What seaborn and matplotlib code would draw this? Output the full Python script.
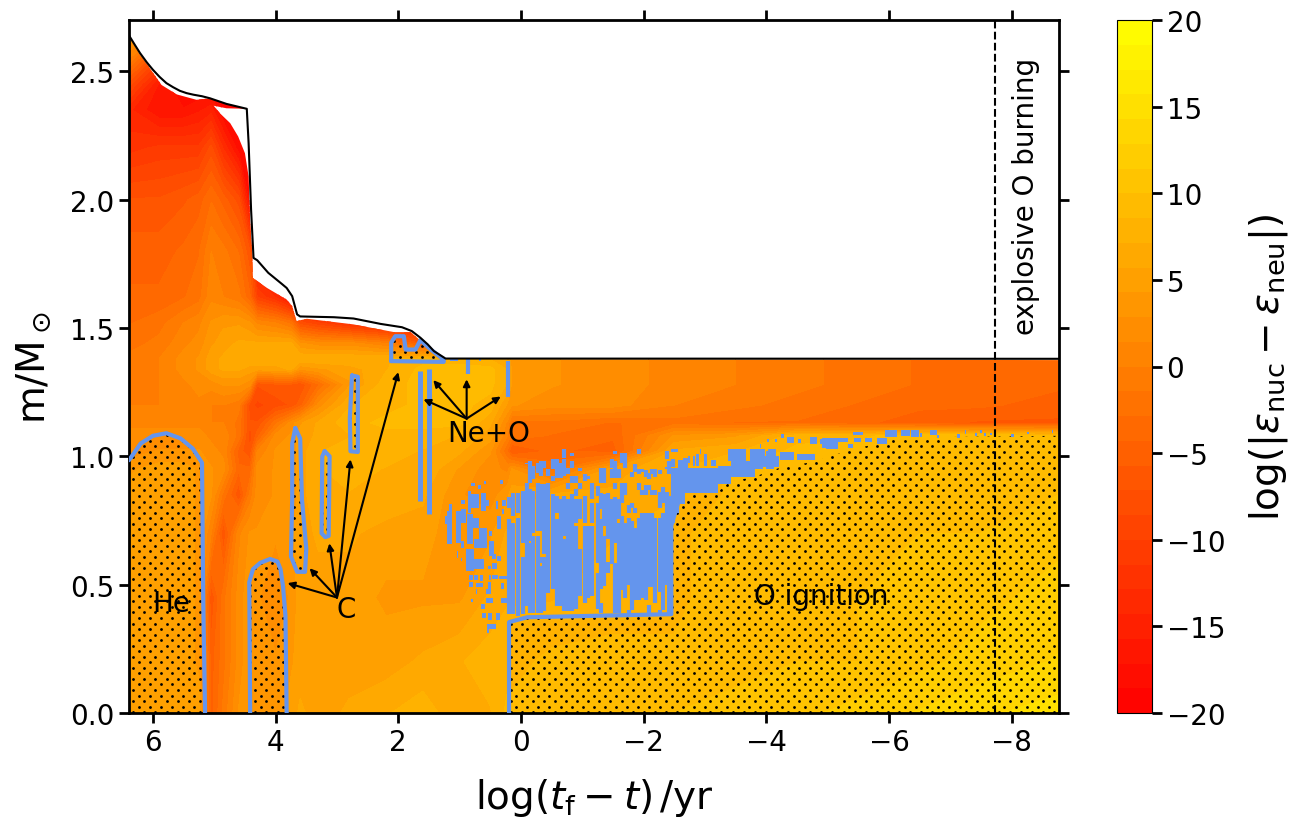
import numpy as np
import pandas as pd
import seaborn as sns
import matplotlib.pyplot as plt
from matplotlib.patches import Polygon

sns.set_style('ticks')
plt.rcParams['font.family'] = 'DejaVu Sans'
for key in ['text.color', 'axes.labelcolor', 'xtick.color', 'ytick.color', 'axes.edgecolor']:
    plt.rcParams[key] = 'k'

BLUE = 'cornflowerblue'

# log(|eps_nuc - eps_neu|), one row per mass level
logt_nodes = [6.39, 5.9, 5.5, 5.25, 5.05, 4.85, 4.6, 4.42, 4.3, 4.0, 3.75, 3.6, 3.3, 2.8, 2.2,
              1.6, 1.0, 0.5, 0.22, 0.15, -0.5, -1.5, -2.5, -3.5, -4.5, -5.5, -6.5, -7.5, -8.77]
mass_nodes = [0, 0.2, 0.45, 0.7, 0.85, 0.95, 1.02, 1.08, 1.13, 1.2, 1.28, 1.34, 1.38,
              1.44, 1.52, 1.62, 1.8, 2.0, 2.2, 2.35, 2.45, 2.55, 2.65]
eps_rows = [
    [5, 5, 5, 5, -5, -1, 3, 4, 3, 3, 5, 6, 5, 6, 7, 8, 6, 7, 9, 9, 9, 10, 10, 11, 11, 12, 13, 14, 15],
    [5, 5, 5, 4, -5, -2, 2, 4, 3, 3, 4, 5, 5, 5, 5, 6, 7, 8, 8, 8, 9, 9, 9, 9, 10, 10, 11, 12, 13],
    [5, 5, 5, 4, -7, -2, 2, 4, 3, 2, 3, 5, 5, 5, 4, 4, 4, 6, 7, 7, 7, 8, 8, 10, 10, 10, 11, 11, 12],
    [5, 5, 5, 4, 0, -7, 1, 3, 3, 3, 4, 5, 6, 6, 5, 5, 3, 4, 6, 6, 7, 7, 8, 10, 10, 10, 10, 10, 11],
    [5, 5, 5, 4, 3, -2, -7, -1, 2, 3, 3, 5, 7, 7, 7, 6, 3, 2, 4, 5, 6, 6, 7, 9, 9, 10, 10, 10, 10],
    [4, 5, 5, 4, 3, 2, -4, -4, 2, 3, 3, 5, 7, 8, 7, 7, 4, 2, 1, 3, -2, 5, 7, 9, 9, 10, 10, 10, 10],
    [2, 3, 3, 3, 2, 1, -5, -7, 0, 3, 3, 5, 7, 8, 8, 7, 6, 3, -3, -6, -4, -5, 6, 7, 9, 10, 10, 10, 10],
    [2, 2, 2, 2, 1, 1, -2, -8, -5, 2, 3, 5, 6, 7, 8, 8, 7, 5, 0, -2, -3, -4, 3, 4, 8, 8, 10, 10, 9],
    [1, 1, 1, 1, 0, 0, -2, -7, -7, -2, 2, 4, 6, 8, 9, 9, 9, 6, 1, -2, -2, -3, -2, -3, -3, -4, -5, -6, -6],
    [0, 0, 1, 1, 0, 0, -1, -8, -9, -8, -7, -5, 2, 7, 8, 9, 9, 8, 4, 3, 2, 2, 0, -1, -2, -3, -4, -4, -5],
    [-1, 0, 1, 2, 2, 3, 3, 2, -7, -6, -6, -7, -3, 4, 8, 9, 10, 9, 7, 4, 3, 2, 1, 0, -1, -2, -3, -3, -4],
    [-1, 0, 2, 3, 5, 6, 6, 5, 5, 5, 6, 3, 4, 5, 7, 9, 10, 9, 7, 4, 3, 2, 1, 0, -1, -2, -3, -3, -4],
    [-1, 0, 2, 3, 5, 6, 7, 7, 7, 7, 7, 7, 7, 7, 7, 8, 7, 7, 6, 3, 3, 2, 1, 0, -1, -2, -3, -3, -4],
    # above here only the left part is ever seen, the rest repeats the last value
    [-2, -1, 1, 2, 4, 5, 6, 6, 6, 6, 6, 3, 2, 2, 0, -6, 0],
    [-3, -2, 0, 1, 3, 4, 4, 3, 1, 0, -2, -8, -10, -13, -15, -15, -15],
    [-4, -4, -3, -2, 1, 0, -1, -4, -10, -13, -18],
    [-5, -5, -4, -3, 0, -1, -3, -7, -18],
    [-7, -7, -6, -5, -3, -5, -8, -18],
    [-12, -11, -11, -11, -8, -13, -18, -19],
    [-14, -17, -17, -16, -15, -19],
    [-8, -16, -19],
    [0, -9, -19],
    [5, 0, -19],
]

# stellar surface (black) and upper edge of the coloured area
surface_logt = [6.39, 6.3, 6.21, 6.1, 6.0, 5.89, 5.78, 5.67, 5.56, 5.45, 5.34, 5.2, 5.07, 4.8, 4.47, 4.44, 4.4,
                4.36, 4.3, 4.12, 3.9, 3.82, 3.73, 3.65, 3.6, 3.05, 2.73, 2.29, 1.94, 1.78, 1.64, 1.52, 1.42, 1.23, -8.77]
surface_mass = [2.64, 2.605, 2.571, 2.535, 2.506, 2.478, 2.454, 2.438, 2.424, 2.415, 2.409, 2.403, 2.395, 2.373,
                2.354, 2.22, 1.961, 1.773, 1.764, 1.715, 1.672, 1.656, 1.624, 1.553, 1.545, 1.542, 1.537, 1.516,
                1.503, 1.488, 1.462, 1.436, 1.41, 1.381, 1.38]
top_logt = [6.39, 6.3, 6.21, 6.1, 6.0, 5.86, 5.61, 5.29, 5.07, 4.8, 4.47, 4.8, 5.01, 4.905, 4.74, 4.61, 4.5, 4.44, 4.415,
            4.38, 4.37, 4.14, 3.82, 3.73, 3.66, 3.49, 2.73, 2.07, 1.8, 1.53, 1.26, -8.77, -8.77, 6.39]
top_mass = [2.64, 2.6, 2.565, 2.53, 2.495, 2.447, 2.41, 2.389, 2.395, 2.373, 2.354, 2.356, 2.366, 2.336, 2.298, 2.246, 2.181,
            2.09, 1.909, 1.78, 1.695, 1.656, 1.611, 1.585, 1.527, 1.536, 1.514, 1.484, 1.484, 1.429, 1.379, 1.375, 0, 0]

# burning zones
he_logt = [6.39, 6.36, 6.2, 6.0, 5.78, 5.55, 5.35, 5.2, 5.18, 5.15, 6.39]
he_mass = [0.985, 0.995, 1.05, 1.08, 1.09, 1.07, 1.03, 0.975, 0.44, 0, 0]
c1_logt = [4.415, 4.43, 4.37, 4.25, 4.09, 3.97, 3.92, 3.88, 3.84, 3.82]
c1_mass = [0, 0.51, 0.56, 0.585, 0.6, 0.59, 0.56, 0.495, 0.38, 0]
c2_logt = [3.68, 3.73, 3.73, 3.75, 3.65, 3.52, 3.5, 3.57, 3.6, 3.68]
c2_mass = [1.11, 1.05, 0.83, 0.61, 0.55, 0.55, 0.64, 0.83, 1.07, 1.11]
c3_logt = [3.2, 3.24, 3.25, 3.19, 3.135, 3.12, 3.2]
c3_mass = [1.02, 1.0, 0.70, 0.685, 0.69, 1.0, 1.02]
c4_logt = [2.755, 2.66, 2.66, 2.78, 2.79, 2.755]
c4_mass = [1.315, 1.31, 1.017, 1.02, 1.15, 1.315]
c5_logt = [2.116, 2.116, 2.05, 1.91, 1.88, 1.72, 1.64, 1.47, 1.26, 1.26, 2.116]
c5_mass = [1.371, 1.443, 1.468, 1.468, 1.416, 1.416, 1.453, 1.416, 1.377, 1.368, 1.371]
o_logt = [0.195, 0.195, -0.1, -2.45, -2.45, -2.61, -3.2, -3.4, -3.8, -4.19, -4.79, -5.39,
          -5.77, -6.1, -8.77, -8.77, 0.195]
o_mass = [0, 0.354, 0.373, 0.385, 0.73, 0.86, 0.86, 0.9, 0.92, 0.953, 0.98, 1.027,
          1.047, 1.073, 1.08, 0, 0]
o_edge_logt = [0.195, 0.195, -0.1, -2.45, -2.45, -2.6]
o_edge_mass = [0, 0.354, 0.373, 0.385, 0.73, 0.85]

# Ne+O strips: logt, bottom, top
strip_logt = [1.64, 1.5, 0.858, 0.22]
strip_lo = [0.826, 0.774, 1.32, 1.233]
strip_hi = [1.332, 1.342, 1.385, 1.37]

# noisy convective cells, columns inside the O flash region: logt, bottom, top
cols_logt = [0.2, 0.2, 0.13, 0.13, 0.05, 0.05, -0.03, -0.03, -0.09, -0.09, -0.145, -0.145, -0.145,
             -0.2, -0.2, -0.2, -0.27, -0.27, -0.27, -0.325, -0.325, -0.325, -0.325, -0.38, -0.38, -0.38,
             -0.445, -0.445, -0.52, -0.52, -0.52, -0.585, -0.585, -0.585, -0.65, -0.65,
             -0.705, -0.705, -0.705, -0.705, -0.765, -0.765, -0.765, -0.835, -0.835, -0.835, -0.835,
             -0.9, -0.9, -0.9, -0.9, -0.965, -0.965, -0.965, -0.965, -1.04, -1.04, -1.04, -1.1, -1.1,
             -1.16, -1.16, -1.16, -1.25, -1.25, -1.25]
cols_lo = [0.385, 0.80, 0.385, 0.768, 0.379, 0.781, 0.385, 0.664, 0.417, 0.969, 0.391, 0.67, 0.897,
           0.391, 0.703, 0.91, 0.391, 0.709, 0.936, 0.391, 0.586, 0.709, 0.923, 0.398, 0.62, 0.956,
           0.469, 0.923, 0.482, 0.904, 0.949, 0.417, 0.781, 0.917, 0.417, 0.917,
           0.398, 0.69, 0.923, 0.995, 0.398, 0.871, 0.93, 0.398, 0.897, 0.956, 1.001,
           0.404, 0.742, 0.845, 0.897, 0.456, 0.755, 0.871, 0.943, 0.43, 0.742, 0.904, 0.45, 0.91,
           0.456, 0.742, 0.832, 0.404, 0.586, 0.845]
cols_hi = [0.755, 0.84, 0.742, 0.858, 0.761, 0.858, 0.606, 0.865, 0.897, 0.975, 0.664, 0.871, 0.982,
           0.69, 0.865, 0.962, 0.69, 0.897, 0.975, 0.573, 0.606, 0.891, 0.982, 0.606, 0.891, 0.982,
           0.897, 0.949, 0.852, 0.923, 0.988, 0.755, 0.845, 0.988, 0.832, 0.975,
           0.677, 0.845, 0.988, 1.027, 0.832, 0.897, 0.956, 0.852, 0.923, 0.982, 1.014,
           0.729, 0.832, 0.871, 0.923, 0.638, 0.832, 0.897, 0.956, 0.729, 0.845, 0.93, 0.729, 0.923,
           0.729, 0.82, 0.897, 0.547, 0.82, 0.884]
cols2_logt = [-1.3, -1.3, -1.3, -1.3, -1.36, -1.36, -1.36, -1.42, -1.42, -1.48, -1.48, -1.48,
              -1.54, -1.54, -1.54, -1.54, -1.54, -1.59, -1.59, -1.59, -1.65, -1.65, -1.65,
              -1.7, -1.7, -1.7, -1.755, -1.755, -1.755, -1.81, -1.81, -1.81, -1.865, -1.865, -1.865,
              -1.92, -1.92, -1.92, -1.92, -1.975, -1.975, -1.975, -2.03, -2.03, -2.03,
              -2.08, -2.08, -2.08, -2.08, -2.14, -2.14, -2.14, -2.19, -2.19, -2.19,
              -2.26, -2.26, -2.26, -2.26, -2.31, -2.31, -2.375, -2.375, -2.375, -2.42, -2.42,
              -2.48, -2.48, -2.54, -2.6, -2.66]
cols2_lo = [0.391, 0.482, 0.794, 0.897, 0.495, 0.73, 0.897, 0.547, 0.677, 0.58, 0.917, 0.956,
            0.391, 0.664, 0.871, 0.917, 1.008, 0.391, 0.755, 0.917, 0.48, 0.82, 0.975,
            0.45, 0.85, 0.956, 0.39, 0.5, 0.78, 0.40, 0.80, 0.92, 0.44, 0.78, 0.94,
            0.44, 0.87, 0.93, 1.01, 0.45, 0.85, 0.94, 0.44, 0.85, 0.92,
            0.39, 0.49, 0.87, 0.91, 0.49, 0.85, 0.93, 0.43, 0.85, 0.92,
            0.39, 0.47, 0.80, 0.93, 0.40, 0.82, 0.50, 0.95, 0.99, 0.38, 0.93,
            0.74, 0.96, 0.78, 0.845, 0.87]
cols2_hi = [0.43, 0.755, 0.858, 0.956, 0.69, 0.852, 0.956, 0.59, 0.858, 0.832, 0.95, 0.988,
            0.586, 0.84, 0.897, 0.982, 1.02, 0.742, 0.832, 0.95, 0.768, 0.897, 1.014,
            0.74, 0.897, 1.014, 0.40, 0.76, 0.81, 0.75, 0.82, 0.94, 0.72, 0.80, 0.97,
            0.76, 0.897, 0.95, 1.03, 0.78, 0.87, 0.95, 0.78, 0.89, 0.945,
            0.42, 0.78, 0.89, 0.935, 0.78, 0.87, 0.95, 0.76, 0.87, 0.95,
            0.40, 0.76, 0.86, 0.945, 0.78, 0.88, 0.86, 0.96, 1.02, 0.845, 0.98,
            0.90, 0.99, 0.94, 0.96, 0.97]

# loose cells: logt_hi, logt_lo, m_lo, m_hi
specks = [
    (0.82, 0.755, 0.884, 0.897), (0.695, 0.655, 0.871, 0.887), (0.60, 0.565, 0.891, 0.904),
    (0.34, 0.30, 0.891, 0.906), (0.865, 0.82, 0.78, 0.865), (0.82, 0.68, 0.80, 0.852),
    (0.98, 0.92, 0.814, 0.83), (0.655, 0.575, 0.787, 0.858), (0.575, 0.52, 0.806, 0.83),
    (0.41, 0.375, 0.793, 0.826), (0.315, 0.25, 0.806, 0.83), (0.315, 0.275, 0.774, 0.793),
    (1.175, 1.13, 0.787, 0.813), (1.245, 1.175, 0.735, 0.767), (1.20, 1.12, 0.657, 0.787),
    (1.065, 0.98, 0.664, 0.787), (0.98, 0.90, 0.742, 0.793), (0.875, 0.79, 0.657, 0.774),
    (0.79, 0.68, 0.722, 0.761), (0.68, 0.55, 0.644, 0.722), (0.52, 0.48, 0.69, 0.709),
    (0.385, 0.33, 0.716, 0.767), (0.98, 0.93, 0.644, 0.67), (0.765, 0.68, 0.644, 0.677),
    (0.52, 0.44, 0.612, 0.67), (1.05, 1.02, 0.602, 0.631), (0.465, 0.41, 0.599, 0.618),
    (0.395, 0.32, 0.593, 0.612), (0.98, 0.955, 0.593, 0.605), (0.90, 0.765, 0.553, 0.638),
    (0.765, 0.60, 0.56, 0.599), (0.535, 0.49, 0.56, 0.573), (0.465, 0.385, 0.56, 0.586),
    (0.845, 0.775, 0.518, 0.537), (0.765, 0.70, 0.518, 0.537), (0.67, 0.62, 0.515, 0.537),
    (0.52, 0.49, 0.518, 0.537), (0.48, 0.375, 0.521, 0.537), (0.355, 0.22, 0.521, 0.534),
    (0.845, 0.79, 0.489, 0.511), (0.74, 0.62, 0.489, 0.508), (0.53, 0.49, 0.482, 0.511),
    (0.32, 0.275, 0.485, 0.505), (0.74, 0.71, 0.463, 0.482), (0.575, 0.49, 0.463, 0.482),
    (0.82, 0.79, 0.431, 0.446), (0.575, 0.455, 0.428, 0.45), (0.32, 0.22, 0.428, 0.45),
    (0.645, 0.59, 0.407, 0.426), (0.64, 0.575, 0.372, 0.389), (0.535, 0.475, 0.363, 0.389),
    (0.40, 0.34, 0.363, 0.389), (0.56, 0.41, 0.329, 0.346), (0.56, 0.52, 0.313, 0.329),
    (1.15, 1.03, 1.37, 1.38), (0.69, 0.65, 1.372, 1.384),
    # along the top of the O zone
    (-2.45, -2.67, 0.813, 0.956), (-2.67, -3.21, 0.859, 0.956), (-3.21, -3.42, 0.894, 0.962),
    (-3.42, -3.81, 0.92, 0.982), (-3.81, -3.95, 0.95, 1.02), (-3.95, -4.2, 0.96, 1.0),
    (-4.0, -4.12, 0.95, 1.02), (-4.22, -4.45, 0.985, 1.016), (-4.5, -4.79, 0.985, 1.01),
    (-2.45, -2.56, 1.017, 1.027), (-2.91, -2.94, 1.008, 1.027), (-3.37, -3.67, 0.982, 1.027),
    (-3.73, -3.97, 0.982, 1.027), (-4.03, -4.16, 0.995, 1.03), (-3.89, -3.92, 1.031, 1.049),
    (-4.01, -4.04, 1.056, 1.066), (-4.14, -4.175, 1.056, 1.066), (-4.245, -4.29, 1.073, 1.086),
    (-4.33, -4.45, 1.053, 1.075), (-4.51, -4.57, 1.053, 1.069), (-4.71, -4.83, 1.047, 1.075),
    (-4.88, -5.05, 1.047, 1.069), (-2.72, -2.75, 0.975, 1.0), (-2.8, -2.83, 0.962, 1.0),
    (-2.86, -2.9, 0.962, 1.008), (-2.98, -3.025, 0.962, 1.008), (-3.10, -3.18, 0.962, 0.984),
    (-2.56, -2.64, 0.891, 0.984), (-2.64, -2.72, 0.956, 0.995),
    (-4.9, -5.06, 1.034, 1.07), (-4.98, -5.17, 1.027, 1.073), (-5.145, -5.335, 1.057, 1.073),
    (-5.335, -5.42, 1.031, 1.049), (-5.42, -5.58, 1.083, 1.093), (-5.43, -5.55, 1.057, 1.07),
    (-5.61, -5.72, 1.057, 1.07), (-5.8, -5.96, 1.047, 1.073), (-5.93, -6.125, 1.075, 1.101),
    (-6.2, -6.34, 1.079, 1.101), (-6.36, -6.48, 1.075, 1.101), (-6.51, -6.53, 1.075, 1.092),
    (-6.67, -6.78, 1.083, 1.101), (-6.78, -6.82, 1.073, 1.083), (-7.1, -7.16, 1.07, 1.088),
    (-7.23, -7.26, 1.088, 1.101), (-7.4, -7.43, 1.079, 1.092), (-7.48, -7.51, 1.092, 1.101),
    (-7.55, -7.58, 1.079, 1.092), (-7.65, -7.68, 1.082, 1.092), (-7.98, -8.03, 1.075, 1.086),
    (-8.25, -8.28, 1.088, 1.096), (-8.65, -8.68, 1.09, 1.101),
]

# arrows: tail then tips
c_tail = (3.0, 0.45)
c_tips = [(3.805, 0.506), (3.446, 0.564), (3.124, 0.661), (2.78, 0.988), (2.0, 1.328)]
ne_tail = (0.886, 1.147)
ne_tips = [(1.59, 1.222), (1.43, 1.297), (0.886, 1.30), (0.33, 1.233)]

# grid table: short rows repeat their last value out to the right
grid = np.array([r + [r[-1]] * (len(logt_nodes) - len(r)) for r in eps_rows], dtype=float)
levels = np.linspace(-20, 20, 29)

fig = plt.figure(figsize=(12.96, 8.28), dpi=100)
ax = fig.add_axes([129 / 1296, 1 - 714 / 828, 930 / 1296, 693 / 828])
cax = fig.add_axes([1117 / 1296, 1 - 714 / 828, 35 / 1296, 693 / 828])

cs = ax.contourf(logt_nodes, mass_nodes, grid, levels=levels, cmap='autumn')
cs.set_clip_path(Polygon(np.column_stack([top_logt, top_mass]), transform=ax.transData))

# stipple texture for the burning zones, a staggered dot lattice cut to each zone
zones = [(he_logt, he_mass), (c1_logt, c1_mass), (c2_logt, c2_mass), (c3_logt, c3_mass),
         (c4_logt, c4_mass), (c5_logt, c5_mass), (o_logt, o_mass)]
dot_rows = np.arange(0.0031, 1.6, 0.0216)
dot_cols = np.arange(6.32, -8.8, -0.1809)
dx, dy = [], []
for i, row in enumerate(dot_rows):
    shift = 0.09045 if i % 2 else 0
    dx.extend(dot_cols - shift)
    dy.extend(np.full(len(dot_cols), row))
for zx, zy in zones:
    dots = ax.scatter(dx, dy, s=4, color='k', marker='o', linewidths=0, zorder=2)
    dots.set_clip_path(Polygon(np.column_stack([zx, zy]), transform=ax.transData))

for zx, zy in zones[1:-1]:
    ax.plot(zx, zy, color=BLUE, lw=3, zorder=3, solid_joinstyle='round')
ax.plot(he_logt[:-1], he_mass[:-1], color=BLUE, lw=3, zorder=3)
ax.plot(o_edge_logt, o_edge_mass, color=BLUE, lw=3, zorder=3)

# noisy cells
ax.vlines(strip_logt[:2], strip_lo[:2], strip_hi[:2], color=BLUE, lw=3.6, capstyle='butt', zorder=3)
ax.vlines(strip_logt[2:], strip_lo[2:], strip_hi[2:], color=BLUE, lw=3.0, capstyle='butt', zorder=3)
ax.vlines(cols_logt, cols_lo, cols_hi, color=BLUE, lw=3.0, capstyle='butt', zorder=3)
ax.vlines(cols2_logt, cols2_lo, cols2_hi, color=BLUE, lw=3.0, capstyle='butt', zorder=3)
sp = np.array(specks)
ax.bar(sp[:, 0], sp[:, 3] - sp[:, 2], width=sp[:, 1] - sp[:, 0], bottom=sp[:, 2], align='edge',
       color=BLUE, linewidth=0, zorder=3)

# surface
surf = pd.DataFrame({'logt': surface_logt, 'mass': surface_mass})
sns.lineplot(data=surf, x='logt', y='mass', sort=False, estimator=None, color='k', lw=1.5, ax=ax, zorder=4)
ax.axvline(-7.73, color='k', ls='--', lw=1.5, zorder=4)

for tail, tips in [(c_tail, c_tips), (ne_tail, ne_tips)]:
    for tip in tips:
        ax.annotate('', xy=tip, xytext=tail, zorder=5,
                    arrowprops=dict(arrowstyle='-|>', color='k', lw=1.5, shrinkA=0, shrinkB=0, mutation_scale=10))

ax.text(5.7, 0.428, 'He', fontsize=20, ha='center', va='center', zorder=5)
ax.text(2.85, 0.405, 'C', fontsize=20, ha='center', va='center', zorder=5)
ax.text(0.52, 1.09, 'Ne+O', fontsize=20, ha='center', va='center', zorder=5)
ax.text(-4.9, 0.455, 'O ignition', fontsize=20, ha='center', va='center', zorder=5)
ax.text(-8.24, 2.015, 'explosive O burning', fontsize=20, rotation=90, ha='center', va='center', zorder=5)

ax.set_xlim(6.39, -8.77)
ax.set_ylim(0, 2.7)
ax.set_xticks([6, 4, 2, 0, -2, -4, -6, -8])
ax.set_yticks([0, 0.5, 1.0, 1.5, 2.0, 2.5])
ax.tick_params(direction='out', length=7, width=2, labelsize=20, top=True, right=True)
for sp_name in ax.spines:
    ax.spines[sp_name].set_linewidth(2)
ax.set_xlabel(r'$\log(t_{\rm f}-t)\,$/yr', fontsize=28, labelpad=15)
ax.set_ylabel(r'm/M$_\odot$', fontsize=28, labelpad=12)

cb = fig.colorbar(cs, cax=cax, ticks=np.arange(-20, 21, 5))
cb.ax.tick_params(labelsize=20, length=7, width=2)
cb.set_label(r'$\log(|\varepsilon_{\rm nuc}-\varepsilon_{\rm neu}|)$', fontsize=28, labelpad=16)

fig.savefig('out.png', dpi=100)
